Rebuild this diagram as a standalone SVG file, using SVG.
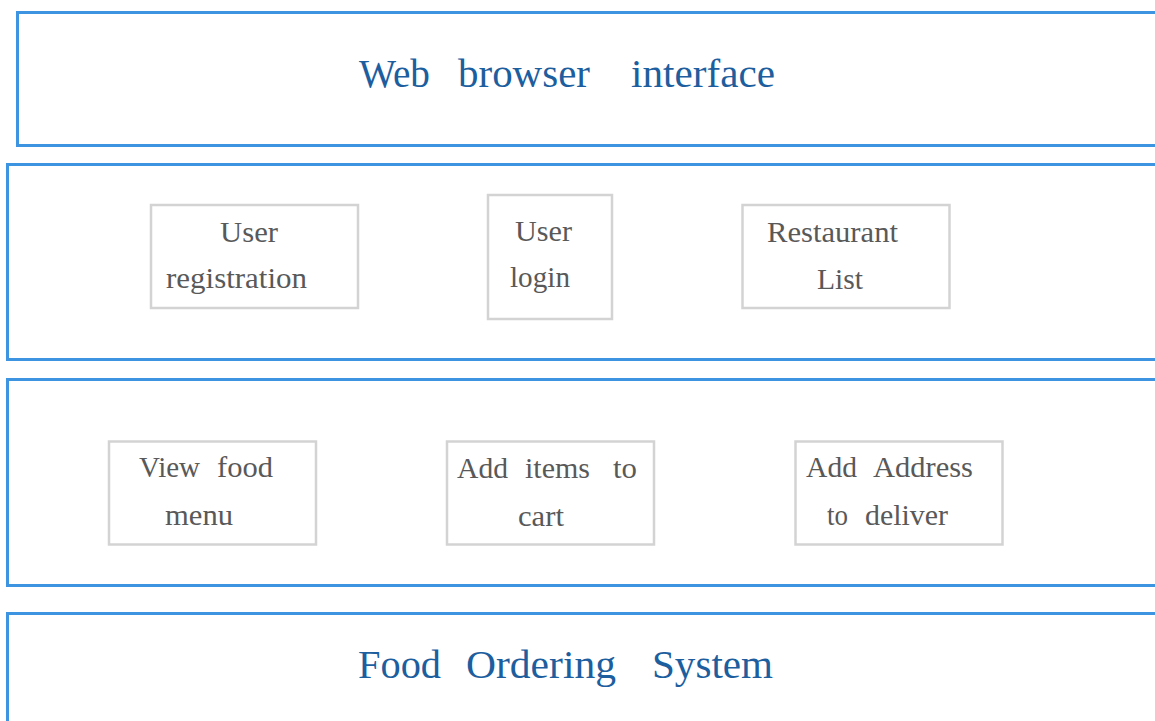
<svg xmlns="http://www.w3.org/2000/svg" width="1155" height="721" viewBox="0 0 1155 721">
<style>
.layer{fill:#fff;stroke:#3d94e0;stroke-width:3}
.box{fill:#fff;stroke:#d3d3d3;stroke-width:2.5}
.title{font-family:"Liberation Serif",serif;font-size:41px;fill:#1d5e9e}
.lbl{font-family:"Liberation Serif",serif;font-size:29px;fill:#595959}
</style>
<rect width="1155" height="721" fill="#fff"/>
<g id="web-browser-interface">
<rect class="layer" x="17.5" y="12.5" width="1160" height="133"/>
<text class="title" y="87"><tspan x="359" textLength="71" lengthAdjust="spacingAndGlyphs">Web</tspan><tspan x="458" textLength="132" lengthAdjust="spacingAndGlyphs">browser</tspan><tspan x="631" textLength="144" lengthAdjust="spacingAndGlyphs">interface</tspan></text>
</g>
<g id="layer-2">
<rect class="layer" x="7.5" y="164.5" width="1170" height="195"/>
</g>
<g id="user-registration">
<rect class="box" x="151" y="205" width="207" height="103"/>
<text class="lbl" lengthAdjust="spacingAndGlyphs"><tspan x="220" y="242" textLength="58" lengthAdjust="spacingAndGlyphs">User</tspan><tspan x="166" y="288" textLength="141" lengthAdjust="spacingAndGlyphs">registration</tspan></text>
</g>
<g id="user-login">
<rect class="box" x="488" y="195" width="124" height="124"/>
<text class="lbl"><tspan x="515" y="241" textLength="57" lengthAdjust="spacingAndGlyphs">User</tspan><tspan x="510" y="287" textLength="60" lengthAdjust="spacingAndGlyphs">login</tspan></text>
</g>
<g id="restaurant-list">
<rect class="box" x="742.5" y="205" width="207" height="103"/>
<text class="lbl"><tspan x="767" y="242" textLength="131" lengthAdjust="spacingAndGlyphs">Restaurant</tspan><tspan x="817" y="289" textLength="46" lengthAdjust="spacingAndGlyphs">List</tspan></text>
</g>
<g id="layer-3">
<rect class="layer" x="7.5" y="379.5" width="1170" height="206"/>
</g>
<g id="view-food-menu">
<rect class="box" x="109" y="441.5" width="207" height="103"/>
<text class="lbl"><tspan x="139" y="477" textLength="61" lengthAdjust="spacingAndGlyphs">View</tspan><tspan x="217" y="477" textLength="56" lengthAdjust="spacingAndGlyphs">food</tspan><tspan x="165" y="525" textLength="68" lengthAdjust="spacingAndGlyphs">menu</tspan></text>
</g>
<g id="add-items-to-cart">
<rect class="box" x="447" y="441.5" width="207" height="103"/>
<text class="lbl"><tspan x="457" y="478" textLength="51" lengthAdjust="spacingAndGlyphs">Add</tspan><tspan x="525" y="478" textLength="65" lengthAdjust="spacingAndGlyphs">items</tspan><tspan x="613" y="478" textLength="24" lengthAdjust="spacingAndGlyphs">to</tspan><tspan x="518" y="526" textLength="46" lengthAdjust="spacingAndGlyphs">cart</tspan></text>
</g>
<g id="add-address-to-deliver">
<rect class="box" x="795.5" y="441.5" width="207" height="103"/>
<text class="lbl"><tspan x="806" y="477" textLength="51" lengthAdjust="spacingAndGlyphs">Add</tspan><tspan x="873" y="477" textLength="100" lengthAdjust="spacingAndGlyphs">Address</tspan><tspan x="827" y="525" textLength="21" lengthAdjust="spacingAndGlyphs">to</tspan><tspan x="865" y="525" textLength="83" lengthAdjust="spacingAndGlyphs">deliver</tspan></text>
</g>
<g id="food-ordering-system">
<rect class="layer" x="7.5" y="613.5" width="1170" height="200"/>
<text class="title" y="678"><tspan x="358" textLength="83" lengthAdjust="spacingAndGlyphs">Food</tspan><tspan x="466" textLength="150" lengthAdjust="spacingAndGlyphs">Ordering</tspan><tspan x="652" textLength="121" lengthAdjust="spacingAndGlyphs">System</tspan></text>
</g>
<g id="connectors"/>
</svg>
